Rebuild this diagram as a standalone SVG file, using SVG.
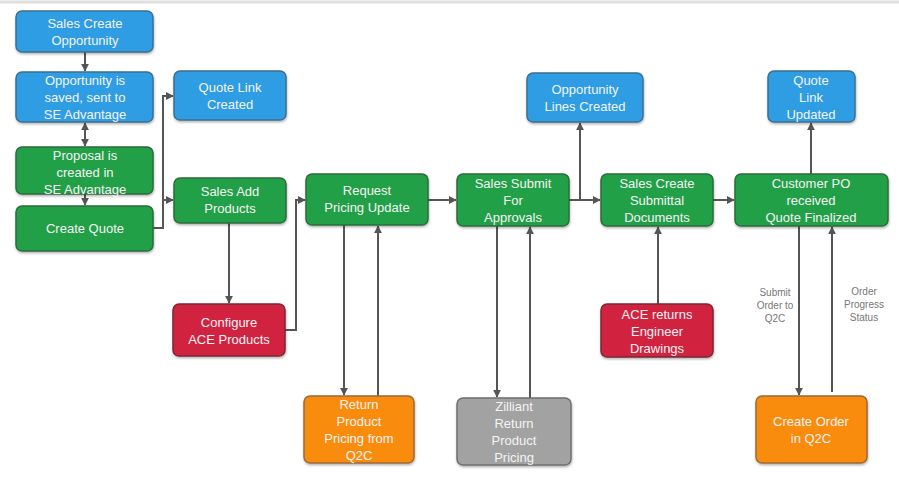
<svg xmlns="http://www.w3.org/2000/svg" width="899" height="477" viewBox="0 0 899 477">
<defs>
<marker id="arr" viewBox="0 0 10 10" refX="9" refY="5" markerWidth="4" markerHeight="4" orient="auto-start-reverse">
<path d="M0,0 L10,5 L0,10 z" fill="#555"/>
</marker>
<filter id="sh" x="-10%" y="-10%" width="130%" height="140%">
<feDropShadow dx="0.5" dy="1.5" stdDeviation="1.2" flood-color="#000" flood-opacity="0.3"/>
</filter>
</defs>
<style>
.n rect{filter:url(#sh);stroke-width:1.5}
.blue rect{fill:#2e9de4;stroke:#3d6f8f}
.green rect{fill:#22a046;stroke:#2f6b3f}
.red rect{fill:#d1243f;stroke:#7a2a36}
.orange rect{fill:#f98b0a;stroke:#9a6a3a}
.gray rect{fill:#a2a2a2;stroke:#6f6f6f}
.n text{font-family:"Liberation Sans",Arial,sans-serif;font-size:13px;fill:#f4f4f4;text-anchor:middle}
.c path{fill:none;stroke:#555;stroke-width:2}
.lbl{font-family:"Liberation Sans",Arial,sans-serif;font-size:10px;fill:#777;text-anchor:middle}
</style>
<rect width="899" height="477" fill="#fff"/>
<line x1="0" y1="2" x2="899" y2="2" stroke="#dedede" stroke-width="3"/>

<g id="connectors" class="c">
<path d="M85,52 V71" marker-end="url(#arr)"/>
<path d="M85,123 V146" marker-start="url(#arr)" marker-end="url(#arr)"/>
<path d="M85,194 V205" marker-end="url(#arr)"/>
<path d="M153,228 H163 V96 H173" marker-end="url(#arr)"/>
<path d="M163,200 H173" marker-end="url(#arr)"/>
<path d="M229,223 V303" marker-end="url(#arr)"/>
<path d="M285,330 H296 V200 H305" marker-end="url(#arr)"/>
<path d="M344,225 V395" marker-end="url(#arr)"/>
<path d="M378,396 V226" marker-end="url(#arr)"/>
<path d="M428,200 H456" marker-end="url(#arr)"/>
<path d="M497,226 V397" marker-end="url(#arr)"/>
<path d="M530,398 V227" marker-end="url(#arr)"/>
<path d="M569,200 H600" marker-end="url(#arr)"/>
<path d="M580,200 V123" marker-end="url(#arr)"/>
<path d="M658,304 V227" marker-end="url(#arr)"/>
<path d="M713,200 H734" marker-end="url(#arr)"/>
<path d="M811,174 V123" marker-end="url(#arr)"/>
<path d="M799,226 V395" marker-end="url(#arr)"/>
<path d="M832,392 V227" marker-end="url(#arr)"/>
</g>
<text class="lbl" x="775" y="296"><tspan x="775">Submit</tspan><tspan x="775" dy="13">Order to</tspan><tspan x="775" dy="13">Q2C</tspan></text>
<text class="lbl" x="864" y="295"><tspan x="864">Order</tspan><tspan x="864" dy="13">Progress</tspan><tspan x="864" dy="13">Status</tspan></text>

<g id="sales-create-opportunity" class="n blue">
<rect x="16" y="11" width="137" height="41" rx="6"/>
<text x="85" y="28"><tspan x="85">Sales Create</tspan><tspan x="85" dy="17">Opportunity</tspan></text>
</g>
<g id="opportunity-saved" class="n blue">
<rect x="16" y="72" width="137" height="50" rx="6"/>
<text x="85" y="85"><tspan x="85">Opportunity is</tspan><tspan x="85" dy="17">saved, sent to</tspan><tspan x="85" dy="17">SE Advantage</tspan></text>
</g>
<g id="proposal-created" class="n green">
<rect x="16" y="147" width="137" height="47" rx="6"/>
<text x="85" y="160"><tspan x="85">Proposal is</tspan><tspan x="85" dy="17">created in</tspan><tspan x="85" dy="17">SE Advantage</tspan></text>
</g>
<g id="create-quote" class="n green">
<rect x="16" y="206" width="137" height="45" rx="6"/>
<text x="85" y="233">Create Quote</text>
</g>
<g id="quote-link-created" class="n blue">
<rect x="174" y="71" width="112" height="49" rx="6"/>
<text x="230" y="92"><tspan x="230">Quote Link</tspan><tspan x="230" dy="17">Created</tspan></text>
</g>
<g id="sales-add-products" class="n green">
<rect x="174" y="178" width="112" height="45" rx="6"/>
<text x="230" y="196"><tspan x="230">Sales Add</tspan><tspan x="230" dy="17">Products</tspan></text>
</g>
<g id="configure-ace" class="n red">
<rect x="173" y="304" width="112" height="52" rx="6"/>
<text x="229" y="327"><tspan x="229">Configure</tspan><tspan x="229" dy="17">ACE Products</tspan></text>
</g>
<g id="request-pricing" class="n green">
<rect x="306" y="174" width="122" height="51" rx="6"/>
<text x="367" y="195"><tspan x="367">Request</tspan><tspan x="367" dy="17">Pricing Update</tspan></text>
</g>
<g id="return-pricing-q2c" class="n orange">
<rect x="304" y="396" width="110" height="67" rx="6"/>
<text x="359" y="409"><tspan x="359">Return</tspan><tspan x="359" dy="17">Product</tspan><tspan x="359" dy="17">Pricing from</tspan><tspan x="359" dy="17">Q2C</tspan></text>
</g>
<g id="sales-submit" class="n green">
<rect x="457" y="174" width="112" height="52" rx="6"/>
<text x="513" y="188"><tspan x="513">Sales Submit</tspan><tspan x="513" dy="17">For</tspan><tspan x="513" dy="17">Approvals</tspan></text>
</g>
<g id="opportunity-lines" class="n blue">
<rect x="527" y="73" width="116" height="49" rx="6"/>
<text x="585" y="94"><tspan x="585">Opportunity</tspan><tspan x="585" dy="17">Lines Created</tspan></text>
</g>
<g id="zilliant" class="n gray">
<rect x="457" y="398" width="114" height="67" rx="6"/>
<text x="514" y="411"><tspan x="514">Zilliant</tspan><tspan x="514" dy="17">Return</tspan><tspan x="514" dy="17">Product</tspan><tspan x="514" dy="17">Pricing</tspan></text>
</g>
<g id="submittal-docs" class="n green">
<rect x="601" y="174" width="112" height="52" rx="6"/>
<text x="657" y="188"><tspan x="657">Sales Create</tspan><tspan x="657" dy="17">Submittal</tspan><tspan x="657" dy="17">Documents</tspan></text>
</g>
<g id="ace-returns" class="n red">
<rect x="601" y="304" width="112" height="53" rx="6"/>
<text x="657" y="319"><tspan x="657">ACE returns</tspan><tspan x="657" dy="17">Engineer</tspan><tspan x="657" dy="17">Drawings</tspan></text>
</g>
<g id="customer-po" class="n green">
<rect x="735" y="174" width="153" height="52" rx="6"/>
<text x="811" y="188"><tspan x="811">Customer PO</tspan><tspan x="811" dy="17">received</tspan><tspan x="811" dy="17">Quote Finalized</tspan></text>
</g>
<g id="quote-link-updated" class="n blue">
<rect x="768" y="71" width="87" height="51" rx="6"/>
<text x="811" y="85"><tspan x="811">Quote</tspan><tspan x="811" dy="17">Link</tspan><tspan x="811" dy="17">Updated</tspan></text>
</g>
<g id="create-order" class="n orange">
<rect x="756" y="396" width="111" height="67" rx="6"/>
<text x="811" y="426"><tspan x="811">Create Order</tspan><tspan x="811" dy="17">in Q2C</tspan></text>
</g>
</svg>
